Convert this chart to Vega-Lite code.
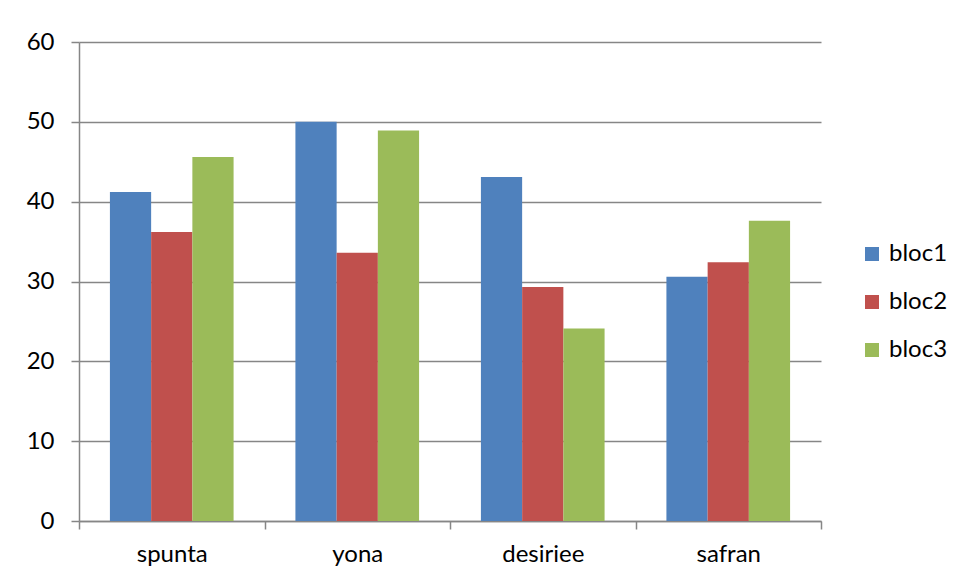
{
  "$schema": "https://vega.github.io/schema/vega-lite/v6.json",
  "width": 742,
  "height": 479,
  "autosize": {"type": "none"},
  "padding": {"left": 79, "top": 42, "right": 137, "bottom": 58},
  "background": "white",
  "data": {
    "values": [
      {"variety": "spunta", "bloc": "bloc1", "value": 41.2},
      {"variety": "spunta", "bloc": "bloc2", "value": 36.2},
      {"variety": "spunta", "bloc": "bloc3", "value": 45.6},
      {"variety": "yona", "bloc": "bloc1", "value": 50.0},
      {"variety": "yona", "bloc": "bloc2", "value": 33.6},
      {"variety": "yona", "bloc": "bloc3", "value": 48.9},
      {"variety": "desiriee", "bloc": "bloc1", "value": 43.1},
      {"variety": "desiriee", "bloc": "bloc2", "value": 29.3},
      {"variety": "desiriee", "bloc": "bloc3", "value": 24.1},
      {"variety": "safran", "bloc": "bloc1", "value": 30.6},
      {"variety": "safran", "bloc": "bloc2", "value": 32.4},
      {"variety": "safran", "bloc": "bloc3", "value": 37.6}
    ]
  },
  "mark": {"type": "bar"},
  "encoding": {
    "x": {
      "field": "variety",
      "type": "nominal",
      "sort": null,
      "scale": {"paddingInner": 0, "paddingOuter": 0},
      "axis": {
        "title": null,
        "labelAngle": 0,
        "tickBand": "extent",
        "tickSize": 8,
        "labelPadding": 13,
        "grid": false
      }
    },
    "xOffset": {
      "field": "bloc",
      "type": "nominal",
      "scale": {"paddingInner": 0, "paddingOuter": 0.75}
    },
    "y": {
      "field": "value",
      "type": "quantitative",
      "scale": {"domain": [0, 60], "nice": false},
      "axis": {
        "title": null,
        "values": [0, 10, 20, 30, 40, 50, 60],
        "grid": true,
        "tickSize": 8,
        "labelPadding": 17
      }
    },
    "color": {
      "field": "bloc",
      "type": "nominal",
      "scale": {"domain": ["bloc1", "bloc2", "bloc3"], "range": ["#4F81BD", "#C0504D", "#9BBB59"]},
      "legend": {
        "title": null,
        "orient": "none",
        "legendX": 781,
        "legendY": 200,
        "symbolType": "square",
        "symbolSize": 196,
        "symbolStrokeWidth": 0,
        "labelOffset": 5,
        "rowPadding": 24,
        "labelFontSize": 24,
        "labelColor": "#000000"
      }
    }
  },
  "config": {
    "font": "Lato",
    "view": {"stroke": null},
    "axis": {
      "labelFont": "Lato",
      "labelFontSize": 24,
      "labelColor": "#000000",
      "domainColor": "#868686",
      "domainWidth": 1.5,
      "tickColor": "#868686",
      "tickWidth": 1.5,
      "gridColor": "#868686",
      "gridWidth": 1.5,
      "gridOpacity": 1
    },
    "legend": {"labelFont": "Lato"}
  }
}
